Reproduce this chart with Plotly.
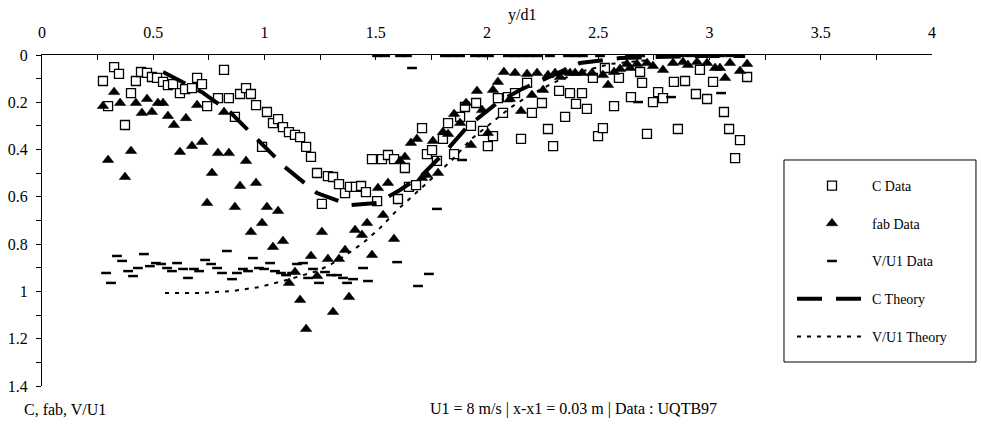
import plotly.graph_objects as go

# ---------------- data ----------------
c_x = [0.274, 0.297, 0.324, 0.346, 0.373, 0.400, 0.422, 0.445, 0.472, 0.494,
       0.517, 0.544, 0.566, 0.589, 0.620, 0.643, 0.674, 0.697, 0.719, 0.742,
       0.791, 0.818, 0.840, 0.867, 0.890, 0.917, 0.939, 0.962, 0.989, 1.011,
       1.038, 1.061, 1.083, 1.110, 1.137, 1.160, 1.187, 1.209, 1.236, 1.258,
       1.285, 1.308, 1.335, 1.362, 1.384, 1.411, 1.434, 1.456, 1.506, 1.483,
       1.528, 1.555, 1.582, 1.600, 1.631, 1.649, 1.681, 1.708, 1.730, 1.753,
       1.775, 1.802, 1.825, 1.852, 1.879, 1.901, 1.928, 1.951, 1.982, 2.004,
       2.027, 2.049, 2.072, 2.094, 2.126, 2.153, 2.180, 2.202, 2.247, 2.274,
       2.297, 2.324, 2.351, 2.373, 2.400, 2.427, 2.449, 2.476, 2.499, 2.521,
       2.571, 2.593, 2.647, 2.697, 2.719, 2.746, 2.769, 2.791, 2.840, 2.858,
       2.890, 2.939, 2.989, 3.016, 3.065, 3.088, 3.137, 3.115, 3.169, 2.530,
       2.688, 2.957]
c_y = [0.110, 0.216, 0.051, 0.080, 0.296, 0.161, 0.110, 0.072, 0.076, 0.093,
       0.097, 0.114, 0.127, 0.123, 0.161, 0.144, 0.140, 0.097, 0.123, 0.216,
       0.182, 0.063, 0.182, 0.262, 0.165, 0.140, 0.165, 0.212, 0.389, 0.241,
       0.288, 0.271, 0.305, 0.326, 0.338, 0.347, 0.389, 0.431, 0.499, 0.630,
       0.512, 0.516, 0.546, 0.584, 0.558, 0.558, 0.554, 0.580, 0.618, 0.440,
       0.440, 0.423, 0.440, 0.609, 0.478, 0.558, 0.550, 0.309, 0.419, 0.402,
       0.448, 0.355, 0.288, 0.419, 0.262, 0.220, 0.300, 0.203, 0.321, 0.385,
       0.343, 0.182, 0.245, 0.178, 0.161, 0.355, 0.118, 0.245, 0.203, 0.313,
       0.385, 0.152, 0.262, 0.161, 0.207, 0.161, 0.228, 0.097, 0.343, 0.309,
       0.216, 0.097, 0.178, 0.118, 0.334, 0.199, 0.157, 0.182, 0.114, 0.313,
       0.110, 0.165, 0.186, 0.114, 0.241, 0.313, 0.360, 0.436, 0.093, 0.055,
       0.072, 0.063]

fab_x = [0.274, 0.297, 0.324, 0.351, 0.373, 0.400, 0.422, 0.449, 0.472, 0.494,
         0.521, 0.544, 0.566, 0.593, 0.620, 0.647, 0.674, 0.697, 0.719, 0.742,
         0.764, 0.791, 0.818, 0.840, 0.867, 0.890, 0.917, 0.939, 0.962, 0.989,
         1.011, 1.038, 1.061, 1.083, 1.110, 1.137, 1.160, 1.187, 1.209, 1.236,
         1.258, 1.285, 1.308, 1.335, 1.362, 1.380, 1.407, 1.438, 1.461, 1.483,
         1.510, 1.533, 1.555, 1.582, 1.609, 1.631, 1.658, 1.685, 1.708, 1.730,
         1.757, 1.780, 1.802, 1.825, 1.852, 1.879, 1.906, 1.928, 1.955, 1.978,
         2.004, 2.027, 2.049, 2.076, 2.103, 2.126, 2.153, 2.180, 2.202, 2.225,
         2.252, 2.274, 2.306, 2.328, 2.351, 2.373, 2.396, 2.427, 2.472, 2.521,
         2.544, 2.571, 2.598, 2.629, 2.643, 2.674, 2.719, 2.746, 2.791, 2.836,
         2.881, 2.903, 2.944, 2.989, 3.025, 3.047, 3.070, 3.092, 3.137, 3.169]
fab_y = [0.216, 0.444, 0.157, 0.203, 0.516, 0.406, 0.203, 0.245, 0.186, 0.241,
         0.203, 0.203, 0.258, 0.296, 0.410, 0.267, 0.385, 0.212, 0.368, 0.626,
         0.499, 0.415, 0.241, 0.415, 0.643, 0.554, 0.448, 0.749, 0.541, 0.711,
         0.643, 0.812, 0.660, 0.787, 0.964, 0.918, 1.036, 1.159, 0.850, 0.935,
         0.749, 0.863, 1.087, 0.863, 0.825, 1.024, 0.740, 0.761, 0.711, 0.846,
         0.563, 0.677, 0.541, 0.778, 0.448, 0.431, 0.372, 0.355, 0.520, 0.508,
         0.364, 0.499, 0.326, 0.334, 0.250, 0.288, 0.203, 0.381, 0.152, 0.233,
         0.330, 0.148, 0.114, 0.072, 0.186, 0.076, 0.237, 0.080, 0.169, 0.076,
         0.148, 0.085, 0.076, 0.093, 0.072, 0.076, 0.076, 0.076, 0.076, 0.085,
         0.127, 0.072, 0.059, 0.038, 0.055, 0.038, 0.034, 0.047, 0.063, 0.034,
         0.030, 0.042, 0.030, 0.034, 0.055, 0.055, 0.097, 0.034, 0.068, 0.038]

v_x = [0.288, 0.310, 0.337, 0.360, 0.387, 0.409, 0.431, 0.458, 0.485, 0.512,
       0.535, 0.562, 0.584, 0.607, 0.634, 0.656, 0.683, 0.706, 0.733, 0.760,
       0.787, 0.809, 0.831, 0.854, 0.876, 0.903, 0.926, 0.948, 0.975, 0.998,
       1.025, 1.047, 1.074, 1.097, 1.124, 1.146, 1.173, 1.196, 1.218, 1.245,
       1.272, 1.299, 1.326, 1.353, 1.371, 1.398, 1.443, 1.465, 1.596, 1.690,
       1.739, 1.775, 1.663, 1.888, 2.679, 2.827, 3.052,
       1.506, 1.542, 1.609, 1.640, 1.811, 1.843, 1.879, 1.946, 1.978, 2.009,
       2.094, 2.126, 2.157, 2.193, 2.225, 2.283, 2.364, 2.396, 2.431, 2.508,
       2.643, 2.688, 2.822, 2.867, 2.912, 2.957, 3.002, 3.047, 3.092, 3.137]
v_y = [0.922, 0.964, 0.850, 0.871, 0.914, 0.935, 0.901, 0.842, 0.893, 0.880,
       0.884, 0.901, 0.914, 0.880, 0.905, 0.943, 0.905, 0.914, 0.867, 0.884,
       0.901, 0.922, 0.829, 0.948, 0.922, 0.905, 0.914, 0.859, 0.901, 0.905,
       0.880, 0.914, 0.922, 0.931, 0.922, 0.884, 0.880, 0.943, 0.905, 0.964,
       0.918, 0.931, 0.931, 0.943, 0.964, 0.948, 0.901, 0.956, 0.876, 0.977,
       0.926, 0.651, 0.055, 0.444, 0.199, 0.178, 0.161,
       0.004, 0.004, 0.004, 0.004, 0.004, 0.004, 0.004, 0.004, 0.004, 0.004,
       0.004, 0.004, 0.004, 0.004, 0.004, 0.004, 0.004, 0.004, 0.004, 0.004,
       0.004, 0.004, 0.004, 0.004, 0.004, 0.004, 0.004, 0.004, 0.004, 0.004]

ct_x = [0.544, 0.652, 0.719, 0.845, 0.957, 1.092, 1.236, 1.384, 1.506, 1.609,
        1.708, 1.820, 1.910, 2.045, 2.148, 2.283, 2.418, 2.598, 2.957, 3.160]
ct_y = [0.072, 0.127, 0.157, 0.241, 0.347, 0.474, 0.584, 0.635, 0.626, 0.571,
        0.508, 0.402, 0.305, 0.203, 0.148, 0.093, 0.034, 0.013, 0.004, 0.004]

vt_x = [0.553, 0.710, 0.858, 0.980, 1.083, 1.160, 1.236, 1.294, 1.353, 1.443,
        1.519, 1.596, 1.667, 1.744, 1.843, 1.924, 2.027, 2.103, 2.193, 2.306,
        2.418, 2.553, 2.733]
vt_y = [1.007, 1.007, 0.998, 0.981, 0.956, 0.935, 0.914, 0.888, 0.854, 0.795,
        0.732, 0.656, 0.596, 0.529, 0.444, 0.360, 0.283, 0.224, 0.169, 0.114,
        0.072, 0.038, 0.021]

x_ticks = [0, 0.5, 1, 1.5, 2, 2.5, 3, 3.5, 4]
x_tick_text = ["0", "0.5", "1", "1.5", "2", "2.5", "3", "3.5", "4"]
y_ticks = [0, 0.2, 0.4, 0.6, 0.8, 1, 1.2, 1.4]
y_tick_text = ["0", "0.2", "0.4", "0.6", "0.8", "1", "1.2", "1.4"]

FONT = "Liberation Serif"

fig = go.Figure()
fig.add_trace(go.Scatter(x=c_x, y=c_y, mode="markers", name="C Data", legendgroup="a",
                         marker=dict(symbol="square", size=9, color="white",
                                     line=dict(color="black", width=1.3))))
fig.add_trace(go.Scatter(x=fab_x, y=fab_y, mode="markers", name="fab Data", legendgroup="b",
                         marker=dict(symbol="triangle-up", size=10, color="black",
                                     line=dict(color="black", width=0.5))))
fig.add_trace(go.Scatter(x=v_x, y=v_y, mode="markers", name="V/U1 Data", legendgroup="c",
                         marker=dict(symbol="line-ew", size=7,
                                     line=dict(color="black", width=2.5))))
fig.add_trace(go.Scatter(x=ct_x, y=ct_y, mode="lines", name="C Theory", legendgroup="d",
                         line=dict(color="black", width=4, dash="25px,14px")))
fig.add_trace(go.Scatter(x=vt_x, y=vt_y, mode="lines", name="V/U1 Theory", legendgroup="e",
                         line=dict(color="black", width=2, dash="4px,6px")))

fig.update_layout(
    width=981, height=428,
    margin=dict(l=42, r=49, t=55, b=42),
    paper_bgcolor="white", plot_bgcolor="white",
    font=dict(family=FONT, size=16, color="black"),
    showlegend=True,
    legend=dict(x=0.8427, y=0.6526, xanchor="left", yanchor="top",
                borderwidth=0, bgcolor="rgba(0,0,0,0)",
                font=dict(family=FONT, size=14),
                itemwidth=70, tracegroupgap=16.5, traceorder="grouped"),
    shapes=[dict(type="rect", xref="paper", yref="paper",
                 x0=0.8337, x1=1.0494, y0=0.0725, y1=0.6828,
                 line=dict(color="black", width=1), fillcolor="white", layer="below")],
    xaxis=dict(range=[0, 4], side="top", showgrid=False, zeroline=False,
               showline=True, linecolor="black", linewidth=1, automargin=False,
               tickmode="array", tickvals=x_ticks, ticktext=x_tick_text,
               ticks="inside", ticklen=5, tickcolor="black",
               ticklabelstandoff=10,
               minor=dict(dtick=0.25, ticks="inside", ticklen=5, tickcolor="black", showgrid=False)),
    yaxis=dict(range=[1.4, 0], showgrid=False, zeroline=False,
               showline=True, linecolor="black", linewidth=1, automargin=False,
               tickmode="array", tickvals=y_ticks, ticktext=y_tick_text,
               ticks="outside", ticklen=5, tickcolor="black",
               ticklabelstandoff=5,
               minor=dict(dtick=0.1, ticks="outside", ticklen=5, tickcolor="black", showgrid=False)),
    annotations=[
        dict(text="y/d1", xref="paper", yref="paper", x=0.539, y=1.121,
             showarrow=False, xanchor="center", yanchor="middle", font=dict(size=16)),
        dict(text="C, fab, V/U1", xref="paper", yref="paper", x=-0.0225, y=-0.07,
             showarrow=False, xanchor="left", yanchor="middle", font=dict(size=16)),
        dict(text="U1 = 8 m/s | x-x1 = 0.03 m | Data : UQTB97", xref="paper", yref="paper",
             x=0.597, y=-0.07, showarrow=False, xanchor="center", yanchor="middle",
             font=dict(size=16)),
    ],
)

fig.write_html("out.html")
